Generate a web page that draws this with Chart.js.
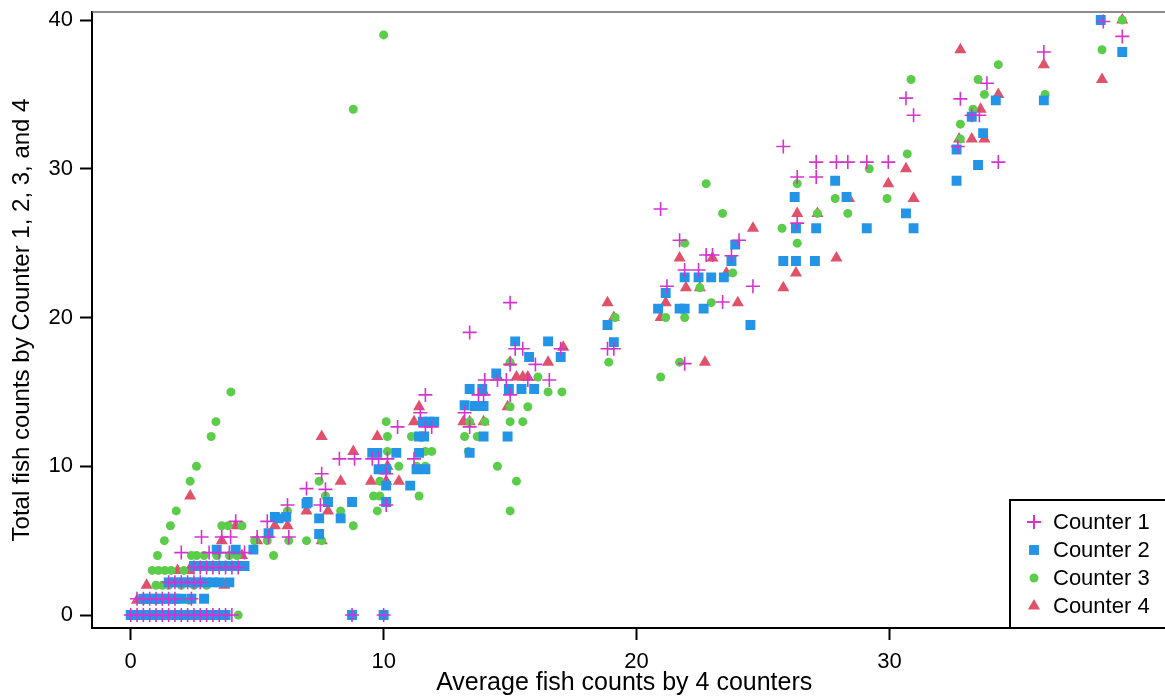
<!DOCTYPE html>
<html>
<head>
<meta charset="utf-8">
<script src="https://cdn.jsdelivr.net/npm/chart.js@4.4.1/dist/chart.umd.min.js"></script>
<style>
html, body { margin: 0; padding: 0; background: #fff; }
#wrap { width: 1165px; height: 696px; }
</style>
</head>
<body>
<div id="wrap"><canvas id="myChart" width="1165" height="696"></canvas></div>
<script>
// data: [average of 4 counters, total by counter]
var counter1 = [
  [0,0],[0.25,0],[0.5,0],[0.75,0],[1,0],[1.25,0],[1.5,0],[1.75,0],[2,0],[2.25,0],[2.5,0],[2.75,0],[3,0],[3.25,0],[3.5,0],[3.75,0],[4,0],[8.75,0],[10,0],
  [0.25,1.1],[0.5,1.1],[0.75,1.1],[1,1.1],[1.25,1.1],[1.5,1.1],[1.75,1.1],[2.4,1.1],
  [1.5,2.2],[1.75,2.2],[2,2.2],[2.25,2.2],[2.5,2.2],[2.75,2.2],
  [2.5,3.2],[2.75,3.2],[3,3.2],[3.25,3.2],[3.5,3.2],[3.75,3.2],[4,3.2],[4.25,3.2],
  [2,4.2],[3.1,4.2],[3.5,4.2],[3.9,4.2],[4.5,4.2],
  [2.8,5.25],[3.6,5.25],[3.95,5.25],[5,5.25],[5.45,5.25],[6.25,5.25],
  [4.15,6.3],[5.4,6.3],
  [6.2,7.4],[6.95,8.5],[7.5,7.4],[7.7,8.45],[7.55,9.5],[8.25,10.5],[8.85,10.5],[9.55,10.5],[9.8,10.5],[10.15,10.5],
  [10.1,9.5],[10.1,7.4],[10.55,12.65],[11.2,10.5],[11.45,13.6],[11.65,14.8],[11.65,12.65],[11.9,12.65],
  [13.2,13.6],[13.4,12.65],[13.4,19],[13.75,14.8],[13.95,14.8],[14,15.8],[14.5,15.8],[14.85,15.8],[15.7,15.8],
  [15,21],[15,16.85],[15,14.8],[15.2,17.9],[15.5,17.9],[16,16.85],[16.55,15.8],[17,17.9],[18.85,17.9],[19.1,17.9],
  [20.95,27.3],[21.2,22.1],[21.7,25.2],[21.9,23.2],[22.45,23.2],[21.9,16.9],[22.75,24.2],[23,24.2],[23.4,21.05],
  [23.75,24.15],[24.05,25.2],[24.6,22.1],
  [25.8,31.5],[26.35,29.45],[26.35,26.35],[27.1,30.45],[27.1,29.45],[27.9,30.45],[28.35,30.45],[29.1,30.45],[29.95,30.45],
  [30.65,34.75],[30.95,33.6],[32.7,31.5],[32.8,34.7],[33.25,33.6],[33.55,33.6],[33.85,35.75],[34.3,30.45],
  [36.1,37.85],[38.45,39.9],[39.2,38.9]
];
var counter2 = [
  [0,0],[0.25,0],[0.5,0],[0.75,0],[1,0],[1.25,0],[1.5,0],[1.75,0],[2,0],[2.25,0],[2.5,0],[2.75,0],[3,0],[3.25,0],[3.5,0],[3.75,0],[8.75,0],[10,0],
  [0.5,1.1],[0.75,1.1],[1,1.1],[1.25,1.1],[1.5,1.1],[1.75,1.1],[2,1.1],[2.4,1.1],[2.9,1.1],
  [1.5,2.2],[1.75,2.2],[2,2.2],[2.25,2.2],[2.5,2.2],[2.75,2.2],[3,2.2],[3.25,2.2],[3.5,2.2],[3.9,2.2],
  [2.5,3.3],[2.75,3.3],[3,3.3],[3.25,3.3],[3.5,3.3],[3.75,3.3],[4,3.3],[4.25,3.3],[4.5,3.3],
  [3.4,4.4],[4.15,4.4],[4.85,4.4],
  [5.45,5.5],[5.7,6.6],[6.15,6.6],[5.85,6.5],[6.95,7.5],[7,7.6],[7.45,6.5],[7.45,5.45],[7.8,7.6],[8.3,6.5],[8.75,7.6],
  [9.55,10.9],[9.75,10.9],[10.5,10.9],[9.8,9.8],[10.1,9.8],[10.1,8.7],[10.1,7.6],[11.05,8.7],[11.3,9.8],[11.65,9.8],
  [11.4,10.9],[11.4,12],[11.6,12],[11.55,13],[11.8,13],[12,13],
  [13.2,14.1],[13.4,15.2],[13.4,10.9],[13.6,14.05],[13.95,14.05],[13.9,15.2],[13.95,12],[14.45,16.25],[14.9,12],
  [14.95,15.2],[15.2,18.4],[15.45,15.2],[15.75,17.35],[15.95,15.2],[16.5,18.4],[17,17.35],
  [18.85,19.5],[19.1,18.35],[20.85,20.6],[21.15,21.65],[21.7,20.6],[21.9,20.6],[21.9,22.7],[22.45,22.7],[22.65,20.6],
  [22.95,22.7],[23.45,22.7],[23.75,23.8],[23.9,24.9],[24.5,19.5],
  [25.8,23.8],[26.3,23.8],[27.05,23.8],[26.25,28.1],[26.3,26],[27.1,26],[27.85,29.2],[28.3,28.1],[29.1,26],
  [30.65,27],[30.95,26],[32.65,31.3],[32.65,29.2],[33.25,33.5],[33.5,30.25],[33.7,32.4],[34.2,34.6],[36.1,34.6],
  [38.35,40],[39.2,37.85]
];
var counter3 = [
  [0.25,0],[0.5,0],[4.25,0],
  [0.5,1],[1,1],[2.3,1],
  [1,2],[1.25,2],[1.5,2],[2,2],[2.5,2],[3,2],
  [0.85,3],[1.1,3],[1.35,3],[1.6,3],[2.1,3],
  [1.06,4],[2.4,4],[2.6,4],[2.9,4],[3.4,4],[3.9,4],[4.2,4],[5.65,4],
  [1.33,5],[4.9,5],[5.4,5],[6.25,5],[6.95,5],[7.55,5],
  [1.57,6],[3.6,6],[3.85,6],[4.4,6],[8.8,6],
  [1.8,7],[6.2,7],[8.3,7],[9.75,7],[15,7],
  [7.7,8],[9.6,8],[9.85,8],[11.4,8],
  [2.35,9],[7.45,9],[9.85,9],[15.25,9],
  [2.6,10],[10.6,10],[11.3,10],[11.65,10],[14.5,10],
  [10.15,11],[11.65,11],[11.9,11],[13.35,11],
  [3.18,12],[10.15,12],[11.1,12],[13.2,12],[13.7,12],
  [3.37,13],[10.1,13],[13.4,13],[14,13],[15,13],[15.5,13],
  [15,14],[15.7,14],
  [3.96,15],[16.5,15],[17.05,15],
  [16.1,16],[20.95,16],
  [15,17],[18.9,17],[21.7,17],
  [19.15,20],[21.15,20],[21.9,20],
  [22.95,21],[22.5,22],[23.8,23],
  [21.9,25],[26.35,25],[25.75,26],
  [23.4,27],[27.15,27],[28.35,27],
  [27.85,28],[29.9,28],[22.75,29],[26.35,29],
  [29.2,30],[30.7,31],[32.8,32],[32.8,33],
  [33.3,34],[8.8,34],[33.75,35],[36.15,35],[33.5,36],[30.85,36],
  [34.3,37],[38.4,38],[10,39],[39.2,40]
];
var counter4 = [
  [0.25,1],[0.5,1],
  [0.63,2],[3.7,2],
  [1.85,3],[2.3,3],
  [4.4,4],
  [3.6,5],[5,5],[7.55,5],
  [4.15,6],[6.2,6],[5.7,6],
  [6.95,7],[7.8,7],
  [2.35,8],
  [8.3,9],[9.5,9],[10.1,9],[10.6,9],
  [10.15,10],[8.8,11],
  [7.55,12],[9.75,12],
  [11.2,13],[13.15,13],[13.4,13],[13.95,13],
  [11.4,14],[14.9,14],[13.95,15],
  [14.5,16],[15.25,16],[15.5,16],[15.7,16],
  [15,17],[16.5,17],[22.7,17],
  [17.1,18],
  [19.1,20],[20.95,20],
  [18.85,21],[21.15,21],[24,21],
  [21.95,22],[22.5,22],[25.8,22],
  [23.55,23],[26.3,23],
  [21.7,24],[23,24],[27.9,24],
  [24.6,26],
  [26.35,27],[27.15,27],
  [28.4,28],[30.95,28],
  [29.95,29],[30.65,30],
  [32.75,32],[33.25,32],[33.75,32],
  [33.6,34],[34.3,35],[38.4,36],[36.1,37],[32.8,38],[39.2,40]
];

var seriesNames = ["Counter 1", "Counter 2", "Counter 3", "Counter 4"];
var seriesColors = ["#d632cf", "#2394e6", "#5ccd4a", "#e0526a"];
var xTicks = [0, 10, 20, 30];
var yTicks = [0, 10, 20, 30, 40];

function toPoints(arr) {
  var out = [];
  for (var i = 0; i < arr.length; i++) {
    out.push({x: arr[i][0], y: arr[i][1]});
  }
  return out;
}

var font = "'Liberation Sans', Arial, sans-serif";

// top frame line and the boxed legend in the lower right corner
var framePlugin = {
  id: 'frame',
  afterDraw: function(chart) {
    var ctx = chart.ctx;
    var a = chart.chartArea;
    ctx.save();
    ctx.strokeStyle = '#666';
    ctx.lineWidth = 1.5;
    ctx.beginPath();
    ctx.moveTo(a.left, a.top);
    ctx.lineTo(1165, a.top);
    ctx.stroke();

    var bx = 1010, by = 500;
    ctx.fillStyle = '#fff';
    ctx.fillRect(bx, by, 1165 - bx, a.bottom - by);
    ctx.strokeStyle = '#000';
    ctx.lineWidth = 2;
    ctx.strokeRect(bx, by, 1165 - bx + 5, a.bottom - by);

    ctx.font = '22px ' + font;
    ctx.textBaseline = 'middle';
    ctx.textAlign = 'left';
    for (var i = 0; i < chart.data.datasets.length; i++) {
      var ds = chart.data.datasets[i];
      var yy = 522 + i * 28;
      var col = seriesColors[i];
      ctx.fillStyle = col;
      ctx.strokeStyle = col;
      Chart.helpers.drawPoint(ctx, {
        pointStyle: ds.pointStyle, rotation: 0,
        radius: ds.pointRadius, borderWidth: ds.pointBorderWidth
      }, 1034, yy);
      ctx.fillStyle = '#000';
      ctx.fillText(ds.label, 1053, yy + 1);
    }
    ctx.restore();
  }
};

var ctx = document.getElementById("myChart").getContext("2d");
var myChart = new Chart(ctx, {
  type: 'scatter',
  data: {
    datasets: [
      { label: seriesNames[0], data: toPoints(counter1), pointStyle: 'cross', pointRadius: 7,
        pointBorderWidth: 1.6, borderColor: seriesColors[0], backgroundColor: seriesColors[0] },
      { label: seriesNames[1], data: toPoints(counter2), pointStyle: 'rect', pointRadius: 7,
        pointBorderWidth: 0, borderColor: seriesColors[1], backgroundColor: seriesColors[1] },
      { label: seriesNames[2], data: toPoints(counter3), pointStyle: 'circle', pointRadius: 4.5,
        pointBorderWidth: 0, borderColor: seriesColors[2], backgroundColor: seriesColors[2] },
      { label: seriesNames[3], data: toPoints(counter4), pointStyle: 'triangle', pointRadius: 7,
        pointBorderWidth: 0, borderColor: seriesColors[3], backgroundColor: seriesColors[3] }
    ]
  },
  options: {
    responsive: false,
    animation: false,
    layout: { padding: { top: 12, right: 0, left: 0, bottom: 0 } },
    plugins: { legend: { display: false }, tooltip: { enabled: false } },
    scales: {
      x: {
        type: 'linear', min: -1.53, max: 40.55,
        afterBuildTicks: function(s) { s.ticks = xTicks.map(function(v) { return {value: v}; }); },
        afterFit: function(s) { s.height = 68; s.paddingLeft = 0; s.paddingRight = 0; },
        grid: { drawOnChartArea: false, tickLength: 12, tickWidth: 2, tickColor: '#000' },
        border: { color: '#000', width: 2 },
        ticks: { color: '#000', font: { size: 22, family: font }, padding: 9, maxRotation: 0 },
        title: { display: true, text: 'Average fish counts by 4 counters', color: '#000',
                 font: { size: 25, family: font, lineHeight: 1 }, padding: { top: 0, bottom: 0 } }
      },
      y: {
        type: 'linear', min: -0.87, max: 40.54,
        afterBuildTicks: function(s) { s.ticks = yTicks.map(function(v) { return {value: v}; }); },
        afterFit: function(s) { s.width = 92; s.paddingTop = 0; s.paddingBottom = 0; },
        grid: { drawOnChartArea: false, tickLength: 12, tickWidth: 2, tickColor: '#000' },
        border: { color: '#000', width: 2 },
        ticks: { color: '#000', font: { size: 22, family: font }, padding: 7 },
        title: { display: true, text: 'Total fish counts by Counter 1, 2, 3, and 4', color: '#000',
                 font: { size: 24, family: font, lineHeight: 1 }, padding: { top: 10, bottom: 0 } }
      }
    }
  },
  plugins: [framePlugin]
});
</script>
</body>
</html>
